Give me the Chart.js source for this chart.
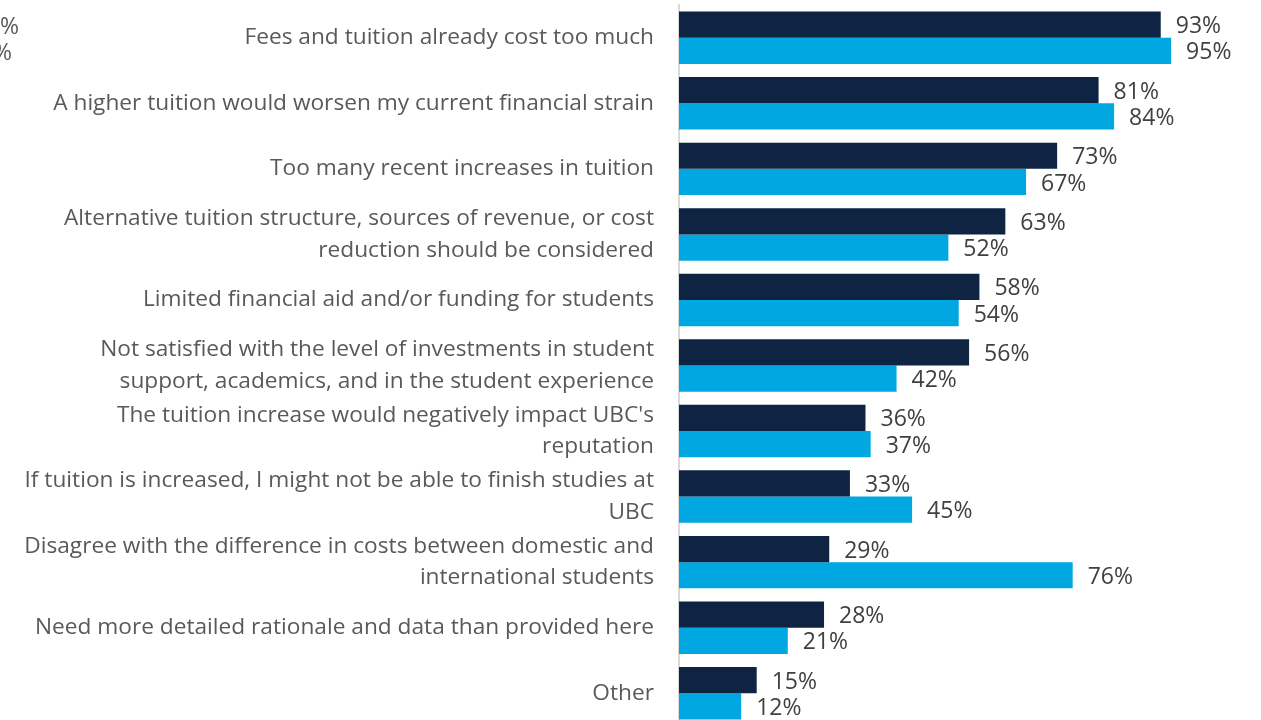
<!DOCTYPE html>
<html>
<head>
<meta charset="utf-8">
<title>Reasons for opposing a tuition increase</title>
<script src="https://cdn.jsdelivr.net/npm/chart.js@4/dist/chart.umd.min.js"></script>
<style>
  html, body { margin: 0; padding: 0; background: #fff; overflow: hidden; }
  #wrap { position: relative; width: 1261px; height: 726px; }
</style>
</head>
<body>
<div id="wrap"><canvas id="reasonsChart"></canvas></div>
<script>
// Categories (multi-line where the label wraps)
const categories = [
    'Fees and tuition already cost too much',
    'A higher tuition would worsen my current financial strain',
    'Too many recent increases in tuition',
    ['Alternative tuition structure, sources of revenue, or cost', 'reduction should be considered'],
    'Limited financial aid and/or funding for students',
    ['Not satisfied with the level of investments in student', 'support, academics, and in the student experience'],
    ['The tuition increase would negatively impact UBC\'s', 'reputation'],
    ['If tuition is increased, I might not be able to finish studies at', 'UBC'],
    ['Disagree with the difference in costs between domestic and', 'international students'],
    'Need more detailed rationale and data than provided here',
    'Other'
];

const domesticValues = [93, 81, 73, 63, 58, 56, 36, 33, 29, 28, 15];
const internationalValues = [95, 84, 67, 52, 54, 42, 37, 45, 76, 21, 12];

const xTicks = [0, 100];

const FONT = '"Open Sans", "Noto Sans", sans-serif';

// Percent labels at the end of each bar
const valueLabels = {
    id: 'valueLabels',
    afterDatasetsDraw(chart) {
        const ctx = chart.ctx;
        ctx.save();
        ctx.font = '23px ' + FONT;
        ctx.fillStyle = '#404040';
        ctx.textAlign = 'left';
        ctx.textBaseline = 'middle';
        chart.data.datasets.forEach((ds, i) => {
            chart.getDatasetMeta(i).data.forEach((bar, j) => {
                ctx.fillText(ds.data[j] + '%', bar.x + 15, bar.y + 2);
            });
        });
        ctx.restore();
    }
};

// Clipped legend entries at the left edge
const legendStub = {
    id: 'legendStub',
    afterDraw(chart) {
        const ctx = chart.ctx;
        ctx.save();
        ctx.font = '23px ' + FONT;
        ctx.fillStyle = '#595959';
        ctx.textAlign = 'right';
        ctx.textBaseline = 'middle';
        ctx.fillText('%', 19, 27);
        ctx.fillText('%', 12, 53);
        ctx.restore();
    }
};

new Chart(document.getElementById('reasonsChart'), {
    type: 'bar',
    data: {
        labels: categories,
        datasets: [{
            label: 'Domestic',
            data: domesticValues,
            backgroundColor: '#0F2343'
        }, {
            label: 'International',
            data: internationalValues,
            backgroundColor: '#00A7E0'
        }]
    },
    options: {
        indexAxis: 'y',
        responsive: true,
        maintainAspectRatio: false,
        animation: false,
        layout: { padding: { top: 5, right: 64, bottom: 0, left: 0 } },
        datasets: { bar: { categoryPercentage: 0.8, barPercentage: 1.0 } },
        plugins: {
            legend: { display: false },
            tooltip: { enabled: false }
        },
        scales: {
            x: {
                min: xTicks[0],
                max: xTicks[1],
                display: false
            },
            y: {
                afterFit(scale) {
                    scale.width = 679;
                    scale.paddingTop = 0;
                    scale.paddingBottom = 0;
                },
                grid: { display: false, drawTicks: false },
                border: { display: true, color: '#D9D9D9', width: 2 },
                ticks: {
                    autoSkip: false,
                    padding: 25,
                    color: '#595959',
                    font: { family: FONT, size: 22.7, lineHeight: 1.4 }
                }
            }
        }
    },
    plugins: [valueLabels, legendStub]
});
</script>
</body>
</html>
